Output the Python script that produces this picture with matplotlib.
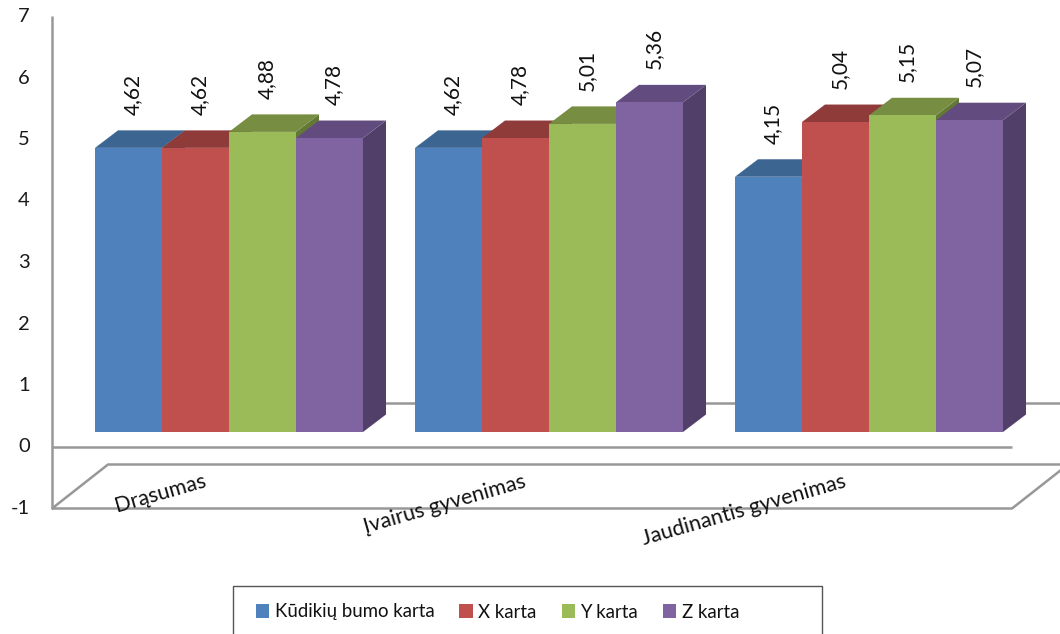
import matplotlib
matplotlib.use("Agg")
import matplotlib.pyplot as plt
from matplotlib.patches import Polygon, Rectangle, Patch

plt.rcParams['font.family'] = ['Lato', 'DejaVu Sans']

# ---- data -------------------------------------------------------------
categories = ["Drąsumas", "Įvairus gyvenimas", "Jaudinantis gyvenimas"]
series = ["Kūdikių bumo karta", "X karta", "Y karta", "Z karta"]
boomers = [4.62, 4.62, 4.15]
gen_x = [4.62, 4.78, 5.04]
gen_y = [4.88, 5.01, 5.15]
gen_z = [4.78, 5.36, 5.07]
values = [boomers, gen_x, gen_y, gen_z]
y_ticks = [-1, 0, 1, 2, 3, 4, 5, 6, 7]

# ---- styling ------------------------------------------------------------
front_cols = ["#4F81BD", "#C0504D", "#9BBB59", "#8064A2"]
top_cols = ["#3D6592", "#8F3B39", "#768D42", "#624C7F"]
side_cols = ["#34557B", "#7A3230", "#647835", "#523F69"]
grid_col = "#989898"

W, H, DPI = 1060, 634, 100
UX = 320.0   # pixels per category step
UY = 61.5    # pixels per value unit
X0_PX = 52   # left edge of the plot box
Y0_PX = 447  # pixel row of value 0 (front plane)

fig = plt.figure(figsize=(W / DPI, H / DPI), dpi=DPI)
ax = fig.add_axes([0, 0, 1, 1])
ax.set_xlim(-0.5 - X0_PX / UX, -0.5 + (W - X0_PX) / UX)
ax.set_ylim((Y0_PX - H) / UY, Y0_PX / UY)
ax.axis("off")


def px(dx, dy):
    """Pixel offset (right, up) expressed in data units."""
    return dx / UX, dy / UY


floor_dx, floor_dy = px(56, 44)     # depth of the floor / value planes
bar_dx, bar_dy = px(17, 15)         # where bar fronts sit inside the depth
depth_dx, depth_dy = px(23, 17.5)   # depth of each bar
bar_w = 67 / UX
n_cat = len(categories)
lo, hi = -0.5, n_cat - 0.5
vmin, vmax = y_ticks[0], y_ticks[-1]

line_kw = dict(color=grid_col, lw=1.8, solid_capstyle="butt", zorder=1)

# floor at the axis minimum
ax.plot([lo, hi, hi + floor_dx, lo + floor_dx, lo],
        [vmin, vmin, vmin + floor_dy, vmin + floor_dy, vmin], **line_kw)
# zero plane edges
ax.plot([lo, hi], [0, 0], **line_kw)
ax.plot([lo + floor_dx, hi + floor_dx], [floor_dy, floor_dy], **line_kw)
# value axis
ax.plot([lo, lo], [vmin, vmax], **line_kw)

for t in y_ticks:
    ax.text(lo - 22 / UX, t, f"{t}", ha="right", va="center",
            fontsize=14.5, color="#1a1a1a")

# bars, drawn left to right so that later faces overlap earlier sides
for i in range(n_cat):
    for j, vals in enumerate(values):
        v = vals[i]
        x0 = i - 2 * bar_w + j * bar_w + bar_dx
        x1 = x0 + bar_w
        b = bar_dy
        t = v + bar_dy
        side = Polygon([(x1, b), (x1 + depth_dx, b + depth_dy),
                        (x1 + depth_dx, t + depth_dy), (x1, t)],
                       closed=True, facecolor=side_cols[j], edgecolor="none",
                       zorder=2)
        top = Polygon([(x0, t), (x1, t), (x1 + depth_dx, t + depth_dy),
                       (x0 + depth_dx, t + depth_dy)],
                      closed=True, facecolor=top_cols[j], edgecolor="none",
                      zorder=2)
        front = Rectangle((x0, b), bar_w, v, facecolor=front_cols[j],
                          edgecolor="none", zorder=2)
        ax.add_patch(side)
        ax.add_patch(top)
        ax.add_patch(front)
        ax.text(x0 + bar_w / 2 + 4 / UX, t + 33 / UY,
                f"{v:.2f}".replace(".", ","), rotation=90,
                ha="center", va="bottom", fontsize=15, color="#111111",
                zorder=3)

# category labels under the floor
for i, name in enumerate(categories):
    ax.text(i - 5 / UX, vmin + 22 / UY, name, rotation=16,
            rotation_mode="anchor", ha="right", va="baseline",
            fontsize=15.5, color="#111111", zorder=3)

# legend box (runs past the lower edge of the figure)
fig.patches.append(Rectangle((233 / W, -20 / H), (822 - 233) / W,
                             (H - 586 + 20) / H, transform=fig.transFigure,
                             facecolor="white", edgecolor="#555555",
                             lw=1.0, zorder=0))

handles = [Patch(facecolor=c, edgecolor="none") for c in front_cols]
leg = fig.legend(handles, series, loc="center left",
                 bbox_to_anchor=(256 / W, 1 - 612 / H), ncol=4,
                 frameon=False, fontsize=13.4,
                 handlelength=0.7, handleheight=0.7, handletextpad=0.3,
                 columnspacing=1.35, borderpad=0.0, borderaxespad=0)
for txt in leg.get_texts():
    txt.set_color("#111111")

fig.savefig("out.png", dpi=DPI)
